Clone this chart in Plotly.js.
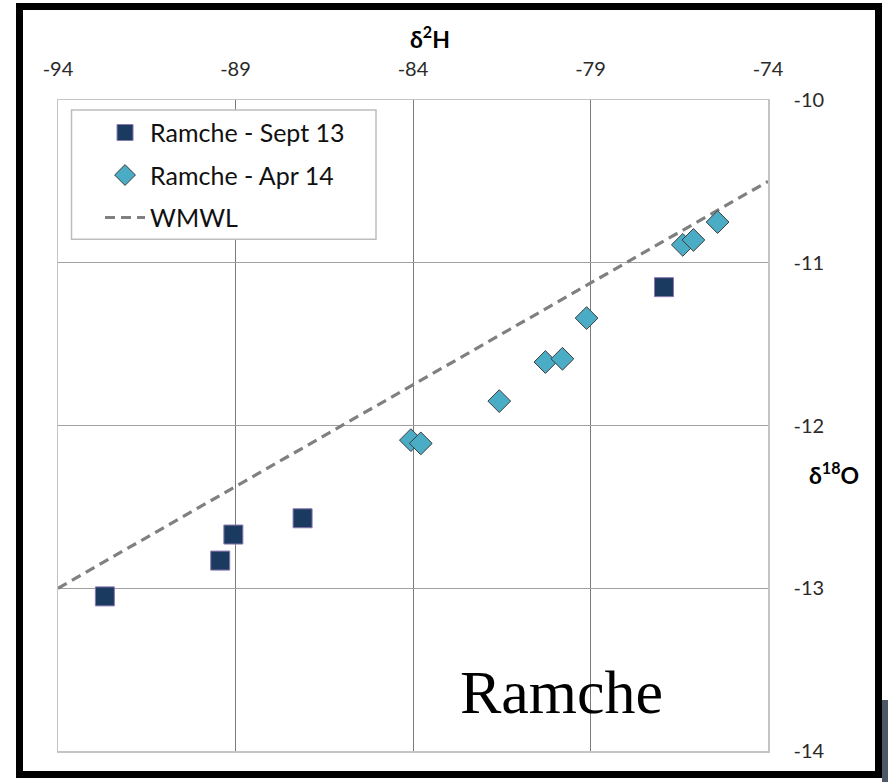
<!DOCTYPE html>
<html>
<head>
<meta charset="utf-8">
<script src="https://cdn.plot.ly/plotly-3.0.1.min.js"></script>
<style>
  html, body { margin: 0; padding: 0; background: #ffffff; }
  #chart { width: 888px; height: 782px; }
</style>
</head>
<body>
<div id="chart"></div>
<script>
// δ2H (x) and δ18O (y) values
const sept13_d2H  = [-92.68, -89.43, -89.06, -87.11, -76.93];
const sept13_d18O = [-13.05, -12.83, -12.67, -12.57, -11.15];

const apr14_d2H  = [-84.06, -83.78, -81.57, -80.27, -79.79, -79.11, -76.40, -76.10, -75.42];
const apr14_d18O = [-12.09, -12.11, -11.85, -11.61, -11.59, -11.34, -10.89, -10.86, -10.75];

// World Meteoric Water Line end points
const wmwl_d2H  = [-94, -74];
const wmwl_d18O = [-13.0, -10.5];

const seriesNames = ['Ramche - Sept 13', 'Ramche - Apr 14', 'WMWL'];
const xTicks = [-94, -89, -84, -79, -74];
const yTicks = [-14, -13, -12, -11, -10];

const traces = [
  {
    x: wmwl_d2H, y: wmwl_d18O, mode: 'lines', type: 'scatter',
    name: seriesNames[2], legendgroup: 'c', legendrank: 3,
    line: { color: '#808080', width: 3.2, dash: '10px,6px' },
    hoverinfo: 'skip'
  },
  {
    x: sept13_d2H, y: sept13_d18O, mode: 'markers', type: 'scatter',
    name: seriesNames[0], legendgroup: 'a', legendrank: 1,
    marker: { symbol: 'square', size: 19, color: '#1b3a60',
              line: { color: '#8a78b0', width: 1 } }
  },
  {
    x: apr14_d2H, y: apr14_d18O, mode: 'markers', type: 'scatter',
    name: seriesNames[1], legendgroup: 'b', legendrank: 2,
    marker: { symbol: 'diamond', size: 17.5, color: '#4bacc6',
              line: { color: '#3c3c3c', width: 1 } }
  }
];

const tickFont = { family: 'Lato, "Open Sans", sans-serif', size: 20, color: '#2a2a2a' };

const layout = {
  width: 888, height: 782,
  margin: { l: 58, r: 120, t: 100, b: 31, pad: 0 },
  paper_bgcolor: '#ffffff', plot_bgcolor: '#ffffff',
  showlegend: true,
  legend: {
    x: 0.0592, xanchor: 'left', y: 0.985, yanchor: 'top',
    bgcolor: 'rgba(0,0,0,0)', borderwidth: 0,
    itemwidth: 40, tracegroupgap: 7,
    font: { family: 'Lato, "Open Sans", sans-serif', size: 25, color: '#111111' }
  },
  xaxis: {
    side: 'top', range: [-94, -74], tickvals: xTicks, ticktext: xTicks.map(String),
    ticks: '', ticklabelstandoff: 15, tickfont: tickFont,
    showgrid: true, gridcolor: '#7a7a7a', gridwidth: 1,
    zeroline: false, showline: true, linecolor: '#c4c4c4', linewidth: 1.5, mirror: true
  },
  yaxis: {
    side: 'right', range: [-14, -10], tickvals: yTicks, ticktext: yTicks.map(String),
    ticks: '', ticklabelstandoff: 20, tickfont: tickFont,
    showgrid: true, gridcolor: '#a0a0a0', gridwidth: 1,
    zeroline: false, showline: true, linecolor: '#c4c4c4', linewidth: 1.5, mirror: true
  },
  shapes: [
    // legend box
    { type: 'rect', xref: 'paper', yref: 'paper', layer: 'above',
      x0: (71.5 - 58) / 710, x1: (376 - 58) / 710,
      y0: 1 - (239.3 - 100) / 651, y1: 1 - (110 - 100) / 651,
      line: { color: '#bdbdbd', width: 1.5 }, fillcolor: '#ffffff' },
    // outer black frame
    { type: 'rect', xref: 'paper', yref: 'paper', layer: 'above',
      x0: (19.5 - 58) / 710, x1: (878.5 - 58) / 710,
      y0: 1 - (774.5 - 100) / 651, y1: 1 + (100 - 6.5) / 651,
      line: { color: '#000000', width: 7 }, fillcolor: 'rgba(0,0,0,0)' },
    // shadow strip at bottom-right
    { type: 'rect', xref: 'paper', yref: 'paper', layer: 'above',
      x0: (882 - 58) / 710, x1: (890 - 58) / 710,
      y0: 1 - (790 - 100) / 651, y1: 1 - (700 - 100) / 651,
      line: { width: 0 }, fillcolor: '#4d5866' }
  ],
  annotations: [
    { text: 'δ<sup>2</sup>H', xref: 'paper', yref: 'paper',
      x: (430 - 58) / 710, y: 1 + (100 - 37) / 651, xanchor: 'center', yanchor: 'middle',
      showarrow: false, font: { family: 'Lato, "Open Sans", sans-serif', size: 23, color: '#000', weight: 'bold' } },
    { text: 'δ<sup>18</sup>O', xref: 'paper', yref: 'paper',
      x: (834 - 58) / 710, y: 1 - (473 - 100) / 651, xanchor: 'center', yanchor: 'middle',
      showarrow: false, font: { family: 'Lato, "Open Sans", sans-serif', size: 23, color: '#000', weight: 'bold' } },
    { text: 'Ramche', xref: 'paper', yref: 'paper',
      x: (561.7 - 58) / 710, y: 1 - (692 - 100) / 651, xanchor: 'center', yanchor: 'middle',
      showarrow: false, font: { family: '"Liberation Serif", "Times New Roman", serif', size: 62, color: '#000' } }
  ]
};

Plotly.newPlot('chart', traces, layout, { displayModeBar: false, staticPlot: true });
</script>
</body>
</html>
